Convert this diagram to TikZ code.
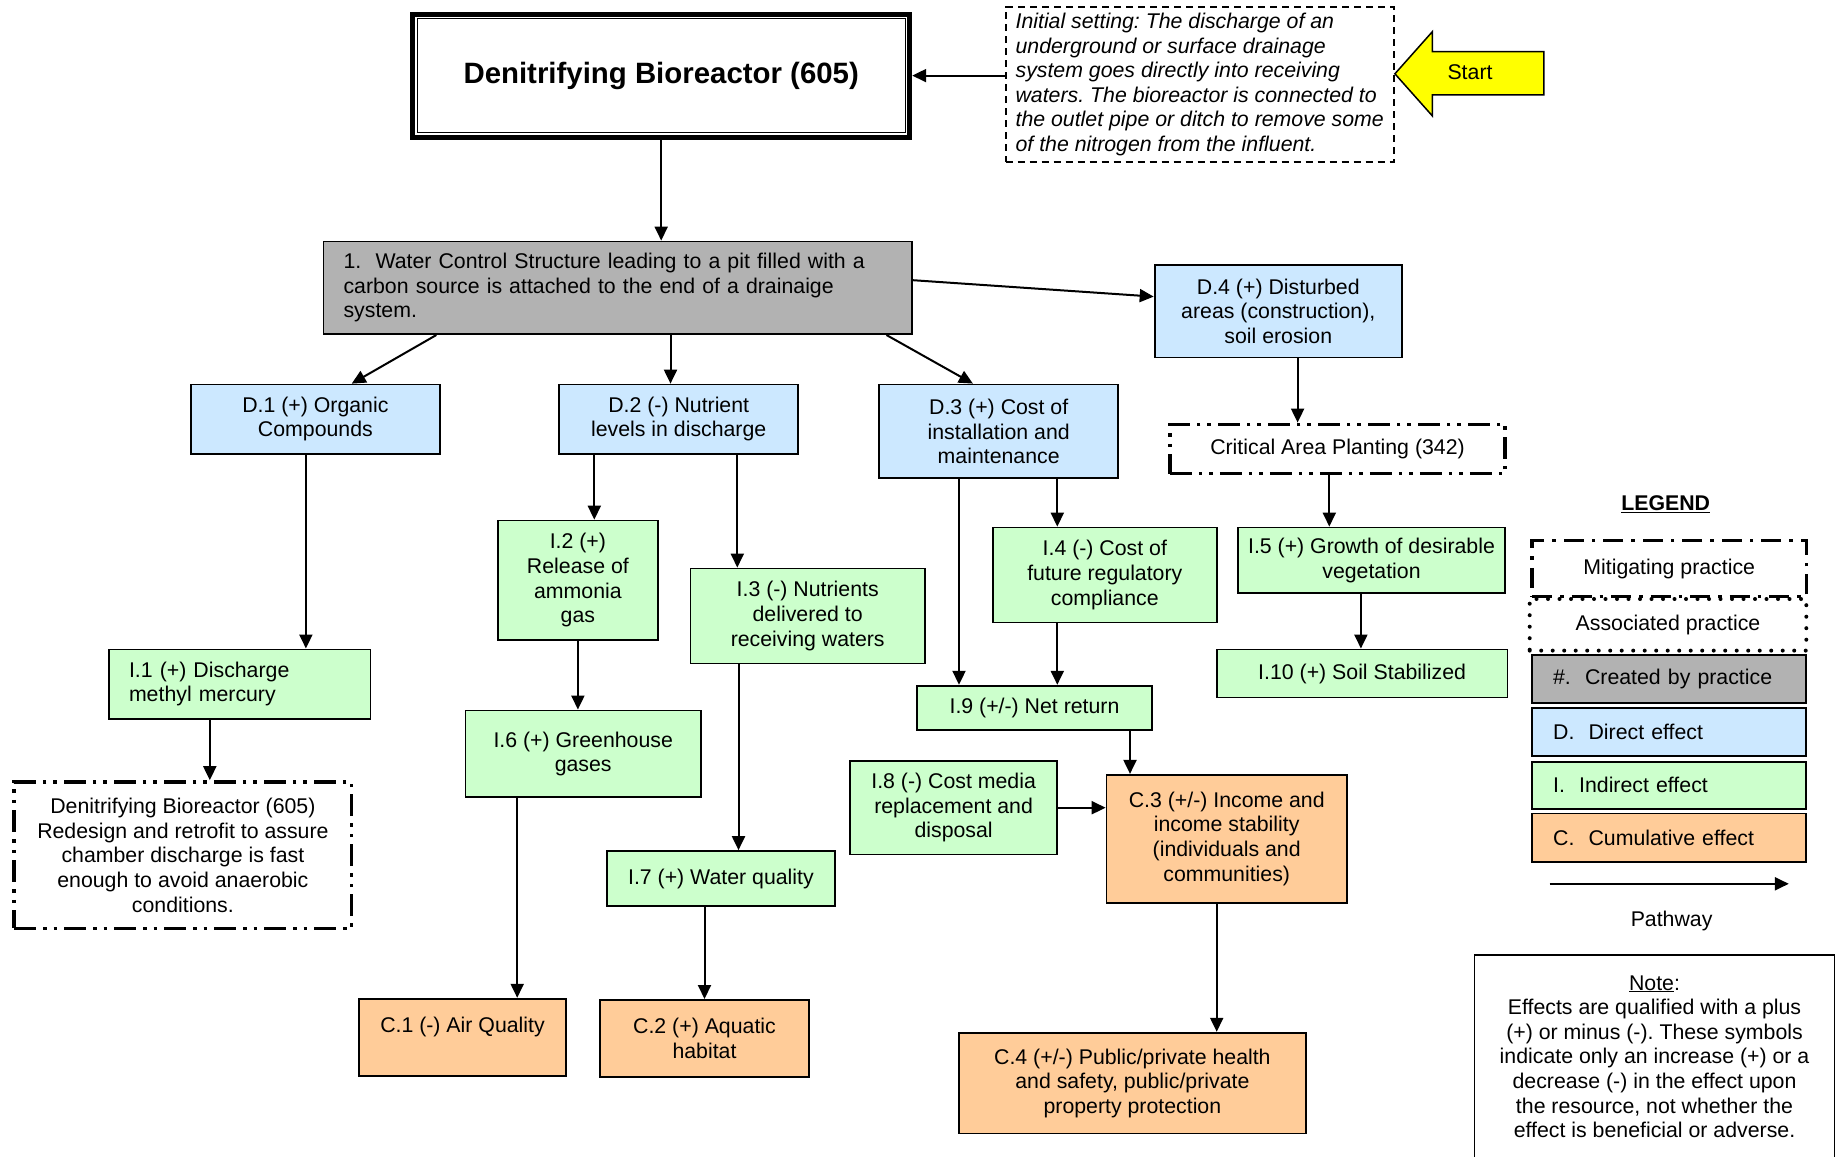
\documentclass[tikz,border=0pt]{standalone}
\usepackage{fontspec}
\setmainfont{Liberation Sans}
\usetikzlibrary{arrows.meta,calc}
\definecolor{ctgray}{HTML}{B2B2B2}
\definecolor{dblue}{HTML}{CCE8FF}
\definecolor{igreen}{HTML}{CCFFCC}
\definecolor{corange}{HTML}{FFCC99}
\definecolor{startyellow}{HTML}{FFFF00}
\frenchspacing
\begin{document}
\begin{tikzpicture}[x=1pt,y=-1pt,
  txt/.style={font=\fontsize{21.3}{24.6}\selectfont},
  sz/.style 2 args={minimum width=#1pt,minimum height=#2pt},
  effect/.style={txt,draw,line width=1.8pt,inner sep=0pt,align=center},
  created/.style={effect,fill=ctgray},
  direct/.style={effect,fill=dblue},
  indirect/.style={effect,fill=igreen},
  cumul/.style={effect,fill=corange},
  mitig/.style={txt,draw,line width=3.5pt,inner sep=0pt,align=center,
    dash pattern=on 22pt off 7pt on 3.5pt off 7pt on 3.5pt off 7pt},
  legmitig/.style={txt,draw,line width=3.5pt,inner sep=0pt,align=center,
    dash pattern=on 20pt off 8pt on 3.5pt off 8pt},
  assoc/.style={txt,draw,line width=4pt,inner sep=0pt,align=center,
    line cap=round,dash pattern=on 0pt off 11.5pt},
  arr/.style={line width=2pt,-{Triangle[length=14pt,width=13pt]}},
]
\useasboundingbox (0,0) rectangle (1838,1156);

% practice title
\node[sz={497}{123},draw,line width=5pt,fill=white,
      font=\fontsize{29.4}{34}\selectfont\bfseries] (title) at (661.2,75.6)
  {Denitrifying Bioreactor (605)};
\draw[line width=1.3pt] ($(title.north west)+(7,7)$) rectangle ($(title.south east)+(-7,-7)$);

% initial setting
\node[draw,line width=1.6pt,dash pattern=on 7pt off 5pt,sz={388}{154.8},
      inner sep=0pt,align=left,
      font=\fontsize{21.3}{24.6}\selectfont\itshape] (init) at (1199.7,84.4)
  {Initial setting: The discharge of an\\underground or surface drainage\\system goes directly into receiving\\waters. The bioreactor is connected to\\the outlet pipe or ditch to remove some\\of the nitrogen from the influent.};

% start arrow
\draw[fill=startyellow,line width=1.5pt,line join=miter]
  (1394.9,73.8) -- (1432.4,31.6) -- (1432.4,51.6) -- (1543.8,51.6)
  -- (1543.8,94.9) -- (1432.4,94.9) -- (1432.4,116) -- cycle;
\node[txt] (start) at (1470,72) {Start};

% created by practice
\node[created,sz={588.5}{92.6},inner xsep=20pt,text width=548.5pt,align=left] (box1) at (617.8,287.8)
  {1.~~Water Control Structure leading to a pit filled with a\\carbon source is attached to the end of a drainaige\\system.};

% direct effects
\node[direct,sz={247.4}{92.6}] (d4) at (1278.3,311.2) {D.4 (+) Disturbed\\areas (construction),\\soil erosion};
\node[direct,sz={248.5}{69.1}] (d1) at (315.4,419.1) {D.1 (+) Organic\\Compounds};
\node[direct,sz={239.2}{69.1}] (d2) at (678.7,419.1) {D.2 (-) Nutrient\\levels in discharge};
\node[direct,sz={239.2}{93.8}] (d3) at (998.7,431.4) {D.3 (+) Cost of\\installation and\\maintenance};

% associated / mitigating practices
\node[mitig,sz={335.3}{49.3}] (cap) at (1337.5,449.0) {Critical Area Planting (342)};
\node[mitig,sz={337.6}{146.5}] (m1) at (182.9,855.2)
  {Denitrifying Bioreactor (605)\\Redesign and retrofit to assure\\chamber discharge is fast\\enough to avoid anaerobic\\conditions.};

% indirect effects
\node[indirect,sz={267.3}{65.6}] (i5) at (1371.5,560.3) {I.5 (+) Growth of desirable\\vegetation};
\node[indirect,sz={290.7}{48.1}] (i10) at (1362.1,673.5) {I.10 (+) Soil Stabilized};
\node[indirect,sz={159.4}{119.5}] (i2) at (577.9,580.3) {I.2 (+)\\Release of\\ammonia\\gas};
\node[indirect,sz={234.5}{95}] (i3) at (807.7,616.0) {I.3 (-) Nutrients\\delivered to\\receiving waters};
\node[indirect,sz={223.9}{94.9}] (i4) at (1104.8,575.0) {I.4 (-) Cost of\\future regulatory\\compliance};
\node[indirect,sz={235.6}{44.6}] (i9) at (1034.5,708.0) {I.9 (+/-) Net return};
\node[indirect,sz={261.4}{69.2},inner xsep=20pt,text width=221.4pt,align=left] (i1) at (239.7,684.0)
  {I.1 (+) Discharge\\methyl mercury};
\node[indirect,sz={235.6}{86.7}] (i6) at (583.2,753.8) {I.6 (+) Greenhouse\\gases};
\node[indirect,sz={227.4}{55.1}] (i7) at (720.9,878.6) {I.7 (+) Water quality};
\node[indirect,sz={207.5}{93.7}] (i8) at (953.6,807.7) {I.8 (-) Cost media\\replacement and\\disposal};

% cumulative effects
\node[cumul,sz={207.5}{77.4}] (c1) at (462.5,1037.4) {C.1 (-) Air Quality\\~};
\node[cumul,sz={208.6}{77.4}] (c2) at (704.5,1038.6) {C.2 (+) Aquatic\\habitat};
\node[cumul,sz={240.3}{127.8}] (c3) at (1226.7,838.7) {C.3 (+/-) Income and\\income stability\\(individuals and\\communities)};
\node[cumul,sz={346.9}{100.8}] (c4) at (1132.4,1083.1) {C.4 (+/-) Public/private health\\and safety, public/private\\property protection};

% pathways
\draw[arr] (init.west |- title.east) -- (title.east);
\draw[arr] (title.south) -- (title.south |- box1.north);
\draw[arr] ($(box1.east)+(0,-7.6)$) -- ($(d4.west)+(0,-14.6)$);
\draw[arr] ($(box1.south west)+(113.7,0)$) -- ($(d1.north)+(36.3,0)$);
\draw[arr] ([xshift=-8.2pt]d2.north |- box1.south) -- ([xshift=-8.2pt]d2.north);
\draw[arr] ($(box1.south west)+(563.8,0)$) -- ($(d3.north)+(-25.8,0)$);
\draw[arr] ([xshift=19.3pt]d4.south) -- ([xshift=19.3pt]d4.south |- cap.north);
\draw[arr] ([xshift=-8.2pt]cap.south) -- ([xshift=-8.2pt]cap.south |- i5.north);
\draw[arr] ([xshift=-10.6pt]i5.south) -- ([xshift=-10.6pt]i5.south |- i10.north);
\draw[arr] ([xshift=16.4pt]i2.north |- d2.south) -- ([xshift=16.4pt]i2.north);
\draw[arr] ([xshift=-70.4pt]i3.north |- d2.south) -- ([xshift=-70.4pt]i3.north);
\draw[arr] ([xshift=-47.5pt]i4.north |- d3.south) -- ([xshift=-47.5pt]i4.north);
\draw[arr] ([xshift=-75.5pt]i9.north |- d3.south) -- ([xshift=-75.5pt]i9.north);
\draw[arr] ([xshift=-47.5pt]i4.south) -- ([xshift=-47.5pt]i4.south |- i9.north);
\draw[arr] ([xshift=66.2pt]i1.north |- d1.south) -- ([xshift=66.2pt]i1.north);
\draw[arr] ([xshift=-29.9pt]i1.south) -- ([xshift=-29.9pt]i1.south |- m1.north);
\draw[arr] (i2.south) -- (i2.south |- i6.north);
\draw[arr] ([xshift=-66pt]i6.south) -- ([xshift=-66pt]i6.south |- c1.north);
\draw[arr] ([xshift=-69.2pt]i3.south) -- ([xshift=-69.2pt]i3.south |- i7.north);
\draw[arr] (c2.north |- i7.south) -- (c2.north);
\draw[arr] (i8.east) -- (i8.east -| c3.west);
\draw[arr] ([xshift=-96.7pt]c3.north |- i9.south) -- ([xshift=-96.7pt]c3.north);
\draw[arr] ([xshift=-10pt]c3.south) -- ([xshift=-10pt]c3.south |- c4.north);

% legend
\node[txt,font=\fontsize{21.3}{24.6}\selectfont\bfseries] (legtitle) at (1665.7,504) {\underline{LEGEND}};
\node[legmitig,sz={274.2}{56.2}] (lmit) at (1669.2,568.5) {Mitigating practice};
\node[assoc,sz={276.6}{51.6}] (lassoc) at (1668,624.8) {Associated practice};
\node[created,sz={274.2}{48},inner xsep=21pt,text width=232.2pt,align=left] (lcreated) at (1669.2,679.3) {\#.~~Created by practice};
\node[direct,sz={274.2}{48.1},inner xsep=21pt,text width=232.2pt,align=left] (ldirect) at (1669.2,732.05) {D.~~Direct effect};
\node[indirect,sz={274.2}{46.9},inner xsep=21pt,text width=232.2pt,align=left] (lindirect) at (1669.2,785.35) {I.~~Indirect effect};
\node[cumul,sz={274.2}{48.1},inner xsep=21pt,text width=232.2pt,align=left] (lcumul) at (1669.2,837.55) {C.~~Cumulative effect};
\coordinate (pwa) at (1549.6,883.8);
\coordinate (pwb) at (1788.8,883.8);
\draw[arr] (pwa) -- (pwb);
\node[txt] (pathway) at (1671.6,921.4) {Pathway};

% note
\node[draw,line width=1.8pt,txt,align=center,sz={359.9}{202.7},inner sep=0pt] (note) at (1654.5,1056.6)
  {\underline{Note}:\\Effects are qualified with a plus\\(+) or minus (-). These symbols\\indicate only an increase (+) or a\\decrease (-) in the effect upon\\the resource, not whether the\\effect is beneficial or adverse.};
\end{tikzpicture}
\end{document}
